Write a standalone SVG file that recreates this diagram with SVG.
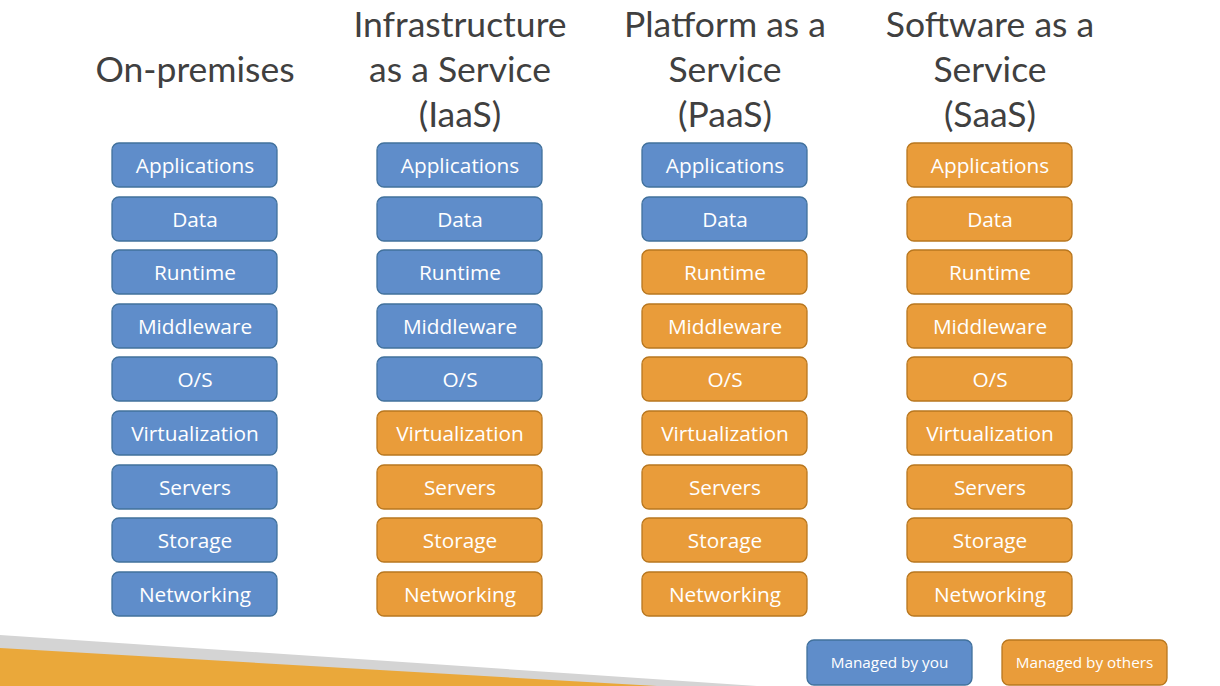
<svg xmlns="http://www.w3.org/2000/svg" width="1220" height="686" viewBox="0 0 1220 686">
<style>
.h{font-family:Lato,"Open Sans",sans-serif;font-size:35.5px;fill:#404040;text-anchor:middle}
.b rect{fill:#5F8DCA;stroke:#41719C;stroke-width:1.3}
.o rect{fill:#E99C3A;stroke:#B8771F;stroke-width:1.3}
.t{font-family:"Open Sans","Liberation Sans",sans-serif;font-size:20.8px;fill:#fff;text-anchor:middle}
.l{font-family:"Open Sans","Liberation Sans",sans-serif;font-size:15.3px;fill:#fff;text-anchor:middle}
</style>
<rect width="1220" height="686" fill="#fff"/>
<polygon points="0,635 757,686 0,686" fill="#D4D4D4"/>
<polygon points="0,648 657,686 0,686" fill="#EAA83A"/>
<g id="headers">
<text class="h" x="195" y="82">On-premises</text>
<text class="h" x="460" y="37">Infrastructure</text>
<text class="h" x="460" y="82">as a Service</text>
<text class="h" x="460" y="127">(IaaS)</text>
<text class="h" x="725" y="37">Platform as a</text>
<text class="h" x="725" y="82">Service</text>
<text class="h" x="725" y="127">(PaaS)</text>
<text class="h" x="990" y="37">Software as a</text>
<text class="h" x="990" y="82">Service</text>
<text class="h" x="990" y="127">(SaaS)</text>
</g>
<g id="col-onprem">
<g id="op-app" class="b"><rect x="112" y="143" width="165" height="44" rx="7"/><text class="t" x="195" y="172.5">Applications</text></g>
<g id="op-data" class="b"><rect x="112" y="197" width="165" height="44" rx="7"/><text class="t" x="195" y="226.5">Data</text></g>
<g id="op-rt" class="b"><rect x="112" y="250" width="165" height="44" rx="7"/><text class="t" x="195" y="279.5">Runtime</text></g>
<g id="op-mw" class="b"><rect x="112" y="304" width="165" height="44" rx="7"/><text class="t" x="195" y="333.5">Middleware</text></g>
<g id="op-os" class="b"><rect x="112" y="357" width="165" height="44" rx="7"/><text class="t" x="195" y="386.5">O/S</text></g>
<g id="op-virt" class="b"><rect x="112" y="411" width="165" height="44" rx="7"/><text class="t" x="195" y="440.5">Virtualization</text></g>
<g id="op-srv" class="b"><rect x="112" y="465" width="165" height="44" rx="7"/><text class="t" x="195" y="494.5">Servers</text></g>
<g id="op-sto" class="b"><rect x="112" y="518" width="165" height="44" rx="7"/><text class="t" x="195" y="547.5">Storage</text></g>
<g id="op-net" class="b"><rect x="112" y="572" width="165" height="44" rx="7"/><text class="t" x="195" y="601.5">Networking</text></g>
</g>
<g id="col-iaas">
<g id="ia-app" class="b"><rect x="377" y="143" width="165" height="44" rx="7"/><text class="t" x="460" y="172.5">Applications</text></g>
<g id="ia-data" class="b"><rect x="377" y="197" width="165" height="44" rx="7"/><text class="t" x="460" y="226.5">Data</text></g>
<g id="ia-rt" class="b"><rect x="377" y="250" width="165" height="44" rx="7"/><text class="t" x="460" y="279.5">Runtime</text></g>
<g id="ia-mw" class="b"><rect x="377" y="304" width="165" height="44" rx="7"/><text class="t" x="460" y="333.5">Middleware</text></g>
<g id="ia-os" class="b"><rect x="377" y="357" width="165" height="44" rx="7"/><text class="t" x="460" y="386.5">O/S</text></g>
<g id="ia-virt" class="o"><rect x="377" y="411" width="165" height="44" rx="7"/><text class="t" x="460" y="440.5">Virtualization</text></g>
<g id="ia-srv" class="o"><rect x="377" y="465" width="165" height="44" rx="7"/><text class="t" x="460" y="494.5">Servers</text></g>
<g id="ia-sto" class="o"><rect x="377" y="518" width="165" height="44" rx="7"/><text class="t" x="460" y="547.5">Storage</text></g>
<g id="ia-net" class="o"><rect x="377" y="572" width="165" height="44" rx="7"/><text class="t" x="460" y="601.5">Networking</text></g>
</g>
<g id="col-paas">
<g id="pa-app" class="b"><rect x="642" y="143" width="165" height="44" rx="7"/><text class="t" x="725" y="172.5">Applications</text></g>
<g id="pa-data" class="b"><rect x="642" y="197" width="165" height="44" rx="7"/><text class="t" x="725" y="226.5">Data</text></g>
<g id="pa-rt" class="o"><rect x="642" y="250" width="165" height="44" rx="7"/><text class="t" x="725" y="279.5">Runtime</text></g>
<g id="pa-mw" class="o"><rect x="642" y="304" width="165" height="44" rx="7"/><text class="t" x="725" y="333.5">Middleware</text></g>
<g id="pa-os" class="o"><rect x="642" y="357" width="165" height="44" rx="7"/><text class="t" x="725" y="386.5">O/S</text></g>
<g id="pa-virt" class="o"><rect x="642" y="411" width="165" height="44" rx="7"/><text class="t" x="725" y="440.5">Virtualization</text></g>
<g id="pa-srv" class="o"><rect x="642" y="465" width="165" height="44" rx="7"/><text class="t" x="725" y="494.5">Servers</text></g>
<g id="pa-sto" class="o"><rect x="642" y="518" width="165" height="44" rx="7"/><text class="t" x="725" y="547.5">Storage</text></g>
<g id="pa-net" class="o"><rect x="642" y="572" width="165" height="44" rx="7"/><text class="t" x="725" y="601.5">Networking</text></g>
</g>
<g id="col-saas">
<g id="sa-app" class="o"><rect x="907" y="143" width="165" height="44" rx="7"/><text class="t" x="990" y="172.5">Applications</text></g>
<g id="sa-data" class="o"><rect x="907" y="197" width="165" height="44" rx="7"/><text class="t" x="990" y="226.5">Data</text></g>
<g id="sa-rt" class="o"><rect x="907" y="250" width="165" height="44" rx="7"/><text class="t" x="990" y="279.5">Runtime</text></g>
<g id="sa-mw" class="o"><rect x="907" y="304" width="165" height="44" rx="7"/><text class="t" x="990" y="333.5">Middleware</text></g>
<g id="sa-os" class="o"><rect x="907" y="357" width="165" height="44" rx="7"/><text class="t" x="990" y="386.5">O/S</text></g>
<g id="sa-virt" class="o"><rect x="907" y="411" width="165" height="44" rx="7"/><text class="t" x="990" y="440.5">Virtualization</text></g>
<g id="sa-srv" class="o"><rect x="907" y="465" width="165" height="44" rx="7"/><text class="t" x="990" y="494.5">Servers</text></g>
<g id="sa-sto" class="o"><rect x="907" y="518" width="165" height="44" rx="7"/><text class="t" x="990" y="547.5">Storage</text></g>
<g id="sa-net" class="o"><rect x="907" y="572" width="165" height="44" rx="7"/><text class="t" x="990" y="601.5">Networking</text></g>
</g>
<g id="legend-you" class="b"><rect x="807" y="640" width="165" height="45" rx="7"/><text class="l" x="889.5" y="668">Managed by you</text></g>
<g id="legend-others" class="o"><rect x="1002" y="640" width="165" height="45" rx="7"/><text class="l" x="1084.5" y="668">Managed by others</text></g>
<g id="connectors"/>
</svg>
